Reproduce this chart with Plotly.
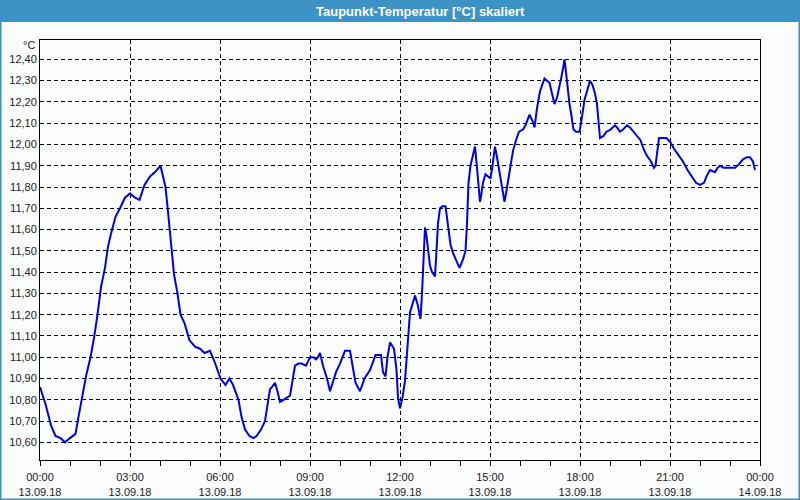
import plotly.graph_objects as go

date = "2018-09-13"
times = [
    "00:00","00:11","00:22","00:31","00:41","00:50","01:00","01:11","01:17","01:24",
    "01:32","01:41","01:48","01:55","02:02","02:10","02:16","02:22","02:31","02:40",
    "02:50","03:00","03:10","03:19","03:29","03:40","03:50","04:01","04:11","04:17",
    "04:23","04:28","04:35","04:41","04:49","04:59","05:10","05:20","05:29","05:40",
    "05:49","06:01","06:11","06:19","06:26","06:37","06:43","06:50","06:59","07:07",
    "07:13","07:22","07:30","07:35","07:40","07:44","07:50","07:55","08:00","08:07",
    "08:13","08:20","08:25","08:30","08:37","08:43","08:52","09:00","09:07","09:12",
    "09:16","09:20","09:26","09:34","09:40","09:46","09:52","10:00","10:10","10:20",
    "10:26","10:31","10:40","10:49","11:00","11:11","11:22","11:26","11:31","11:35",
    "11:40","11:48","11:53","11:56","12:00","12:05","12:10","12:13","12:17","12:20",
    "12:25","12:30","12:35","12:38","12:41","12:44","12:47","12:50","12:53","12:56",
    "13:00","13:04","13:10","13:13","13:16","13:20","13:25","13:31","13:34","13:38",
    "13:41","13:46","13:53","13:59","14:06","14:11","14:14","14:17","14:21","14:26",
    "14:30","14:34","14:37","14:40","14:43","14:46","14:51","14:56","15:01","15:05",
    "15:10","15:14","15:19","15:25","15:29","15:32","15:37","15:41","15:46","15:52",
    "15:58","16:06","16:11","16:19","16:25","16:29","16:34","16:40","16:45","16:49",
    "16:54","16:59","17:04","17:09","17:14","17:19","17:23","17:27","17:29","17:32",
    "17:35","17:39","17:42","17:47","17:52","17:59","18:04","18:09","18:14","18:20",
    "18:25","18:30","18:34","18:37","18:40","18:47","18:53","19:01","19:10","19:14",
    "19:20","19:26","19:34","19:40","19:47","19:55","20:01","20:07","20:13","20:22",
    "20:28","20:31","20:35","20:38","20:47","20:53","21:01","21:08","21:17","21:26",
    "21:35","21:43","21:52","22:00","22:08","22:13","22:20","22:30","22:35","22:40",
    "22:47","22:53","23:04","23:10","23:19","23:26","23:34","23:40","23:46","23:50",
]
dewpoint = [
    10.86,10.78,10.68,10.63,10.62,10.60,10.62,10.64,10.72,10.81,
    10.91,11.00,11.09,11.20,11.33,11.42,11.52,11.58,11.66,11.70,
    11.75,11.77,11.75,11.74,11.81,11.85,11.87,11.90,11.80,11.66,
    11.50,11.39,11.30,11.20,11.16,11.08,11.05,11.04,11.02,11.03,
    10.98,10.90,10.87,10.90,10.87,10.80,10.72,10.66,10.63,10.62,
    10.63,10.66,10.70,10.77,10.85,10.86,10.88,10.84,10.79,10.80,
    10.81,10.82,10.89,10.96,10.97,10.97,10.96,11.00,11.00,10.99,
    11.00,11.02,10.96,10.90,10.84,10.88,10.93,10.97,11.03,11.03,
    10.95,10.88,10.84,10.90,10.94,11.01,11.01,10.93,10.91,11.00,
    11.07,11.04,10.94,10.81,10.76,10.81,10.89,10.98,11.10,11.21,
    11.25,11.29,11.25,11.21,11.18,11.30,11.43,11.61,11.57,11.50,
    11.43,11.40,11.38,11.50,11.63,11.70,11.71,11.71,11.65,11.57,
    11.53,11.49,11.45,11.42,11.46,11.50,11.63,11.82,11.90,11.95,
    11.99,11.89,11.82,11.73,11.77,11.82,11.86,11.85,11.84,11.90,
    11.99,11.94,11.87,11.80,11.73,11.77,11.85,11.91,11.97,12.02,
    12.06,12.07,12.09,12.14,12.11,12.08,12.17,12.25,12.28,12.31,
    12.30,12.29,12.24,12.19,12.22,12.27,12.32,12.37,12.40,12.34,
    12.27,12.19,12.15,12.07,12.06,12.06,12.13,12.21,12.25,12.30,
    12.28,12.24,12.19,12.10,12.03,12.04,12.06,12.07,12.09,12.08,
    12.06,12.07,12.09,12.08,12.06,12.04,12.02,11.98,11.95,11.92,
    11.89,11.90,11.97,12.03,12.03,12.03,12.01,11.98,11.95,11.92,
    11.88,11.85,11.82,11.81,11.82,11.85,11.88,11.87,11.89,11.90,
    11.89,11.89,11.89,11.89,11.91,11.93,11.94,11.94,11.92,11.88,
]
title_text = "Taupunkt-Temperatur [°C] skaliert"
unit_text = "°C"

x = [f"{date} {t}" for t in times]

fig = go.Figure(go.Scatter(
    x=x, y=dewpoint, mode="lines",
    line=dict(color="#0000e6", width=2),
    hoverinfo="skip",
))

W, H = 800, 500
ml, mr, mt, mb = 40, 40, 40, 40
pw, ph = W - ml - mr, H - mt - mb

def px2x(p):
    return (p - ml) / pw

def py2y(p):
    return 1 - (p - mt) / ph

fig.update_layout(
    width=W, height=H,
    margin=dict(l=ml, r=mr, t=mt, b=mb, autoexpand=False),
    paper_bgcolor="#fbfdfd",
    plot_bgcolor="#fbfdfd",
    separators=",.",
    showlegend=False,
    font=dict(family="Liberation Sans, Arial, sans-serif", size=11, color="#1a1a1a"),
    xaxis=dict(
        type="date",
        automargin=False,
        range=["2018-09-13 00:00", "2018-09-14 00:00"],
        tick0="2018-09-13 00:00",
        dtick=3 * 3600 * 1000,
        tickformat="%H:%M<br>%d.%m.%y",
        ticks="outside", ticklen=5, tickcolor="black",
        ticklabelstandoff=2,
        showgrid=True, gridcolor="black", gridwidth=1, griddash="4px,3px",
        showline=True, linecolor="black", linewidth=1, mirror=True,
        minor=dict(dtick=3600 * 1000, ticks="outside", ticklen=5,
                   tickcolor="black", showgrid=False),
        zeroline=False, fixedrange=True,
    ),
    yaxis=dict(
        automargin=False,
        range=[10.517, 12.491],
        tick0=10.6, dtick=0.1,
        tickformat=".2f",
        ticks="", ticklen=0,
        showgrid=True, gridcolor="black", gridwidth=1, griddash="4px,3px",
        showline=True, linecolor="black", linewidth=1, mirror=True,
        zeroline=False, fixedrange=True,
    ),
    shapes=[
        dict(type="rect", xref="paper", yref="paper",
             x0=px2x(0), x1=px2x(W), y0=py2y(22), y1=py2y(0),
             fillcolor="#3d92c4", line=dict(width=0), layer="below"),
        dict(type="rect", xref="paper", yref="paper",
             x0=px2x(0.5), x1=px2x(W - 0.5), y0=py2y(H - 0.5), y1=py2y(0.5),
             fillcolor="rgba(0,0,0,0)", line=dict(color="#3d92c4", width=2)),
    ],
    annotations=[
        dict(text=f"<b>{title_text}</b>", xref="paper", yref="paper",
             x=px2x(420), y=py2y(11), xanchor="center", yanchor="middle",
             showarrow=False, font=dict(color="white", size=13,
                                         family="Liberation Sans, Arial, sans-serif")),
        dict(text=unit_text, xref="paper", yref="paper",
             x=px2x(37), y=py2y(45), xanchor="right", yanchor="middle",
             showarrow=False, font=dict(size=11)),
    ],
)

fig.write_html("out.html")
